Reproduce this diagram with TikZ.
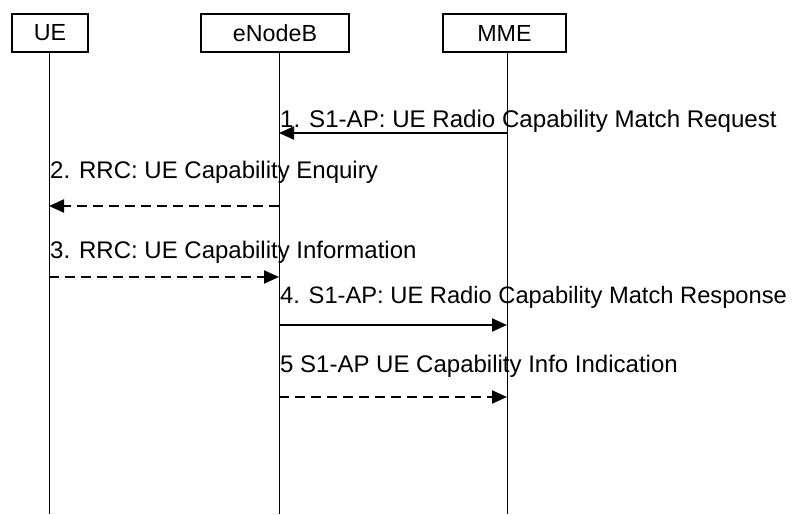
\documentclass[tikz,border=0pt]{standalone}
\usepackage{fontspec}
\setmainfont{Liberation Sans}
\usetikzlibrary{arrows.meta}
\begin{document}
\begin{tikzpicture}[x=1pt,y=-1pt,
  actor/.style={draw,line width=1.4pt,minimum height=38pt,inner sep=0pt,font=\fontsize{23.3}{28}\selectfont},
  life/.style={line width=0.9pt},
  msg/.style={line width=2pt,-{Triangle[length=15pt,width=13pt]}},
  dmsg/.style={msg,dash pattern=on 10pt off 6pt},
  lbl/.style={anchor=base west,inner sep=0pt,font=\fontsize{24}{28}\selectfont}]
\useasboundingbox (0,0) rectangle (794,514);
% actors
\node[actor,minimum width=76pt] (ue) at (50,33) {UE};
\node[actor,minimum width=148pt] (enb) at (275,33) {eNodeB};
\node[actor,minimum width=123pt] (mme) at (504.5,33) {MME};
% lifeline points
\coordinate (ueT) at (49,52);   \coordinate (ueB) at (49,514);
\coordinate (enbT) at (279,52); \coordinate (enbB) at (279,514);
\coordinate (mmeT) at (507,52); \coordinate (mmeB) at (507,514);
\draw[life] (ueT) -- (ueB);
\draw[life] (enbT) -- (enbB);
\draw[life] (mmeT) -- (mmeB);
% message anchor points
\coordinate (mme1) at (507,133); \coordinate (enb1) at (279,133);
\coordinate (enb2) at (279,206); \coordinate (ue2) at (49,206);
\coordinate (ue3) at (49,277);   \coordinate (enb3) at (279,277);
\coordinate (enb4) at (279,325); \coordinate (mme4) at (507,325);
\coordinate (enb5) at (279,397); \coordinate (mme5) at (507,397);
% messages
\draw[msg] (mme1) -- (enb1);
\draw[dmsg] (enb2) -- (ue2);
\draw[dmsg] (ue3) -- (enb3);
\draw[msg] (enb4) -- (mme4);
\draw[dmsg] (enb5) -- (mme5);
% labels
\node[lbl,font=\fontsize{24.1}{28}\selectfont] (l1) at (280,127) {1. S1-AP: UE Radio Capability Match Request};
\node[lbl] (l2) at (50,178) {2. RRC: UE Capability Enquiry};
\node[lbl] (l3) at (50,258) {3. RRC: UE Capability Information};
\node[lbl,font=\fontsize{23.7}{28}\selectfont] (l4) at (280,303) {4. S1-AP: UE Radio Capability Match Response};
\node[lbl] (l5) at (280,372) {5 S1-AP UE Capability Info Indication};
\end{tikzpicture}
\end{document}
